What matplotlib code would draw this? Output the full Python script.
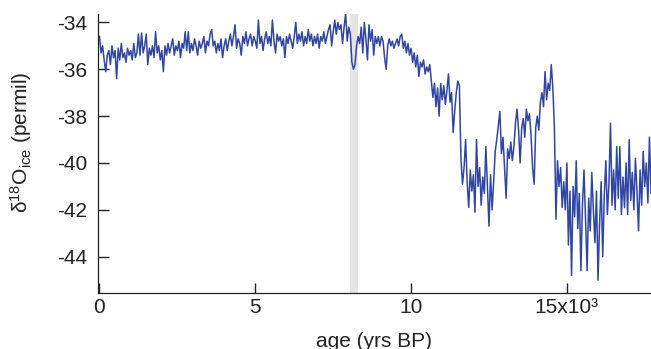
import numpy as np
import matplotlib
matplotlib.use("Agg")
import matplotlib.pyplot as plt

plt.rcParams['font.family'] = ['Liberation Sans', 'DejaVu Sans']
plt.rcParams['mathtext.fontset'] = 'custom'
plt.rcParams['mathtext.rm'] = 'Liberation Sans'
plt.rcParams['mathtext.it'] = 'Liberation Sans:italic'
plt.rcParams['axes.unicode_minus'] = False

# ages in years BP, 50-year spacing
age_start = 0
age_step = 50

d18o = [
    # 0-1000
    -34.6, -35.3, -35.0, -35.6, -36.1, -35.4, -35.2, -35.8, -35.0, -35.5,
    -35.2, -36.4, -35.1, -35.6, -34.9, -35.5, -35.3, -35.7, -35.1, -35.4,
    # 1000-2000
    -35.2, -35.6, -34.9, -35.5, -35.3, -34.5, -35.4, -34.45, -35.3, -35.0,
    -34.5, -35.8, -35.1, -35.4, -35.0, -35.5, -34.4, -35.3, -35.0, -35.6,
    # 2000-3000
    -35.2, -36.1, -35.0, -35.4, -34.9, -35.3, -35.0, -34.7, -35.4, -35.0,
    -35.2, -34.8, -35.5, -34.9, -35.1, -34.4, -35.2, -34.4, -35.3, -34.9,
    # 3000-4000
    -35.2, -34.7, -35.0, -35.4, -34.8, -35.1, -34.9, -34.6, -35.3, -34.8,
    -35.0, -34.5, -34.3, -35.0, -34.8, -35.3, -34.9, -35.2, -34.7, -35.5,
    # 4000-5000
    -35.0, -34.7, -35.2, -34.8, -34.5, -35.0, -34.6, -34.1, -35.1, -34.7,
    -34.9, -35.4, -34.6, -34.9, -34.4, -35.0, -34.7, -34.5, -35.0, -34.6,
    # 5000-6000
    -34.8, -35.1, -33.9, -34.9, -34.6, -35.2, -34.7, -34.4, -34.9, -34.6,
    -35.0, -33.9, -34.8, -35.3, -34.5, -34.8, -34.6, -35.0, -34.7, -35.5,
    # 6000-7000
    -34.6, -34.9, -34.5, -34.8, -35.1, -34.6, -34.0, -34.9, -34.5, -34.8,
    -34.4, -35.0, -34.6, -34.9, -34.3, -34.8, -34.5, -35.0, -34.6, -34.9,
    # 7000-8000
    -34.5, -35.1, -34.6, -34.8, -34.4, -34.9, -34.6, -34.3, -34.1, -35.0,
    -34.4, -33.9, -34.5, -34.0, -34.3, -34.1, -34.9, -34.2, -33.6, -34.8,
    # 8000-9000
    -34.2, -34.5, -35.7, -36.0, -35.8, -35.0, -34.6, -34.9, -34.2, -35.3,
    -34.0, -34.7, -35.6, -34.1, -34.8, -34.3, -35.4, -34.6, -34.9, -34.6,
    # 9000-10000
    -35.0, -34.6, -34.8, -35.5, -36.0, -35.0, -34.7, -35.0, -34.8, -35.1,
    -34.9, -34.7, -35.0, -34.6, -34.5, -35.1, -34.8, -35.3, -34.9, -35.4,
    # 10000-11000
    -35.1, -35.7, -35.3, -35.9, -35.4, -36.3, -35.7, -35.9, -35.6, -36.2,
    -35.9, -36.1, -35.8, -36.5, -37.2, -36.6, -37.6, -36.8, -38.0, -36.6,
    # 11000-12000
    -37.3, -36.7, -37.5, -36.9, -36.2, -37.4, -37.0, -38.7, -37.8, -37.0,
    -36.5, -36.7, -39.8, -40.9, -40.2, -39.0, -40.8, -41.9, -40.3, -41.2,
    # 12000-13000
    -40.5, -42.1, -39.0, -41.0, -40.2, -41.8, -40.6, -41.3, -39.3, -41.0,
    -42.7, -40.5, -42.0, -40.8, -39.5, -39.0, -38.4, -37.8, -39.6, -38.9,
    # 13000-14000
    -40.2, -41.5, -39.4, -39.8, -39.1, -39.9, -39.3, -38.3, -37.7, -38.6,
    -40.0, -38.5, -38.1, -38.9, -37.7, -38.2, -37.9, -38.8, -40.2, -40.9,
    # 14000-15000
    -38.5, -38.0, -38.6, -37.4, -37.0, -37.6, -36.1, -37.3, -36.6, -36.9,
    -35.8, -36.8, -38.5, -42.4, -39.9, -41.0, -40.2, -41.9, -40.8, -42.0,
    # 15000-16000
    -40.0, -43.5, -41.2, -44.8, -41.0, -42.3, -39.9, -42.8, -41.3, -44.6,
    -41.8, -40.3, -42.5, -44.6, -41.5, -42.9, -40.4, -42.0, -43.4, -41.2,
    # 16000-17000
    -45.0, -42.6, -40.8, -44.0, -41.4, -39.9, -42.2, -40.9, -38.3, -41.8,
    -40.3, -42.0, -39.3, -41.5, -39.3, -42.2, -40.6, -41.9, -40.0, -42.2,
    # 17000-17700
    -39.0, -41.6, -40.4, -42.0, -39.8, -41.2, -42.9, -40.3, -41.8, -39.5,
    -41.0, -40.0, -41.7, -38.9, -41.3,
]
ages = age_start + age_step * np.arange(len(d18o))

event_start = 8050
event_end = 8300

xticks = [0, 5000, 10000, 15000]
xtick_labels = ['0', '5', '10', '15x10³']
yticks = [-34, -36, -38, -40, -42, -44]
ytick_labels = ['-34', '-36', '-38', '-40', '-42', '-44']

FS = 15

fig = plt.figure(figsize=(6.51, 3.49), dpi=100)
ax = fig.add_axes([98/651, 1 - 293/349, 1 - 98/651, (293 - 14)/349])

ax.axvspan(event_start, event_end, color='#e4e4e4', lw=0, zorder=0)
ax.plot(ages, d18o, color='#2f46a3', lw=1.1, zorder=2)

ax.set_xlim(-48, 17700)
ax.set_ylim(-45.55, -33.64)

for s in ['top', 'right']:
    ax.spines[s].set_visible(False)
for s in ['left', 'bottom']:
    ax.spines[s].set_linewidth(0.9)
    ax.spines[s].set_color('#222222')

ax.set_xticks(xticks)
ax.set_xticklabels(xtick_labels)
ax.set_yticks(yticks)
ax.set_yticklabels(ytick_labels)
ax.tick_params(axis='y', direction='in', length=8, width=1.0, pad=7.5,
               labelsize=FS, colors='#222222')
ax.tick_params(axis='x', direction='in', length=7, width=1.0, pad=3.5,
               labelsize=FS, colors='#222222')

ax.set_ylabel('δ$^{18}$O$_{\\mathrm{ice}}$ (permil)', fontsize=FS, color='#222222')
ax.yaxis.set_label_coords(-64/553, (293 - 142)/279)
ax.set_xlabel('age (yrs BP)', fontsize=FS, color='#222222')
ax.xaxis.set_label_coords(0.5, -39/279)

fig.savefig('out.png', dpi=100)
